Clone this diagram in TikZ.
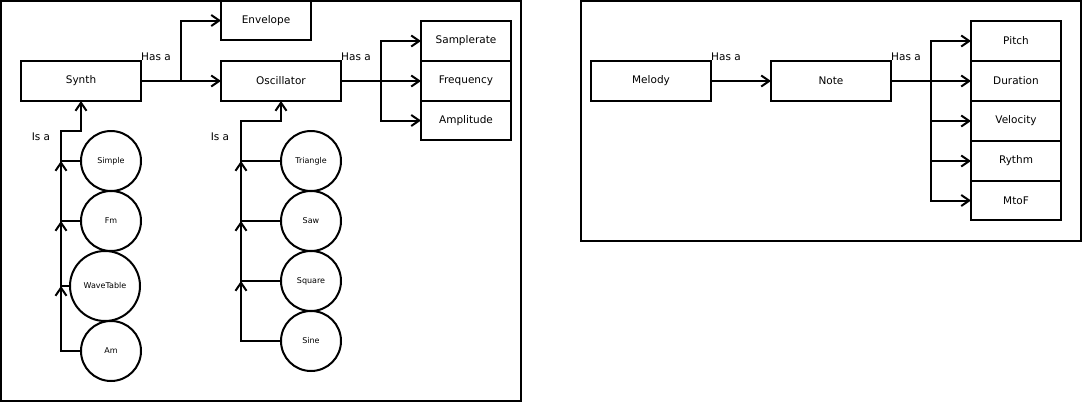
\documentclass[tikz,border=0pt]{standalone}
\usepackage{fontspec}
\setmainfont{DejaVu Sans}
\usetikzlibrary{arrows.meta}
\tikzset{
  box/.style={draw, line width=2pt, rectangle, inner sep=0pt, outer sep=0pt,
    minimum width=120pt, minimum height=40pt, font=\fontsize{10.5}{12}\selectfont},
  sbox/.style={box, minimum width=90pt},
  circ/.style={draw, line width=2pt, circle, inner sep=0pt, outer sep=0pt,
    minimum size=60pt, font=\fontsize{8}{9}\selectfont},
  arr/.style={line width=2pt, -{Straight Barb[length=8pt,width=11pt]}},
  lab/.style={inner sep=0pt, font=\fontsize{10.5}{12}\selectfont},
  frame/.style={line width=2pt}
}
\begin{document}
\begin{tikzpicture}[x=1pt,y=-1pt]
\useasboundingbox (0,0) rectangle (1082,402);
% frames
\draw[frame] (1,1) rectangle (521,401);
\draw[frame] (581,1) rectangle (1081,241);
% left panel boxes
\node[box] (synth) at (81,81) {Synth};
\node[box] (osc) at (281,81) {Oscillator};
\node[sbox, minimum height=39pt] (env) at (266,20.5) {Envelope};
\node[sbox] (samp) at (466,41) {Samplerate};
\node[sbox] (freq) at (466,81) {Frequency};
\node[sbox, minimum height=39pt] (amp) at (466,120.5) {Amplitude};
% circles
\node[circ] (simple) at (111,161) {Simple};
\node[circ] (fm) at (111,221) {Fm};
\node[circ, minimum size=70pt] (wt) at (105,286) {WaveTable};
\node[circ] (am) at (111,351) {Am};
\node[circ] (tri) at (311,161) {Triangle};
\node[circ] (saw) at (311,221) {Saw};
\node[circ] (sq) at (311,281) {Square};
\node[circ] (sine) at (311,341) {Sine};
% labels
\node[lab, anchor=south west] (h1) at (141,61) {Has a};
\node[lab, anchor=south west] (h2) at (341,61) {Has a};
\node[lab] (i1) at (41,137) {Is a};
\node[lab] (i2) at (220,137) {Is a};
% has-a connectors (left)
\coordinate (j1) at (181,81);
\draw[arr] (synth.east) -- (osc.west);
\draw[arr] (j1) |- (env.west);
\coordinate (j2) at (381,81);
\draw[arr] (osc.east) -- (freq.west);
\draw[arr] (j2) |- (samp.west);
\draw[arr] (j2) |- (amp.west);
% is-a connectors (synth)
\coordinate (b1) at (61,131);
\draw[arr] (simple.west) -| (b1) -- (b1 -| synth.south) -- (synth.south);
\draw[arr] (fm.west) -- (fm.west -| b1) -- (simple.west -| b1);
\draw[arr] (wt.west) -- (wt.west -| b1) -- (fm.west -| b1);
\draw[arr] (am.west) -- (am.west -| b1) -- (wt.west -| b1);
% is-a connectors (oscillator)
\coordinate (b2) at (241,121);
\draw[arr] (tri.west) -| (b2) -- (b2 -| osc.south) -- (osc.south);
\draw[arr] (saw.west) -- (saw.west -| b2) -- (tri.west -| b2);
\draw[arr] (sq.west) -- (sq.west -| b2) -- (saw.west -| b2);
\draw[arr] (sine.west) -- (sine.west -| b2) -- (sq.west -| b2);
% right panel
\node[box] (melody) at (651,81) {Melody};
\node[box] (note) at (831,81) {Note};
\node[sbox] (pitch) at (1016,41) {Pitch};
\node[sbox] (dur) at (1016,81) {Duration};
\node[sbox] (vel) at (1016,121) {Velocity};
\node[sbox] (ry) at (1016,161) {Rythm};
\node[sbox, minimum height=39pt] (mtof) at (1016,200.5) {MtoF};
\node[lab, anchor=south west] (h3) at (711,61) {Has a};
\node[lab, anchor=south west] (h4) at (891,61) {Has a};
\draw[arr] (melody.east) -- (note.west);
\coordinate (j3) at (931,81);
\draw[arr] (note.east) -- (dur.west);
\draw[arr] (j3) |- (pitch.west);
\draw[arr] (j3) |- (vel.west);
\draw[arr] (j3) |- (ry.west);
\draw[arr] (j3) |- (mtof.west);
\end{tikzpicture}
\end{document}
